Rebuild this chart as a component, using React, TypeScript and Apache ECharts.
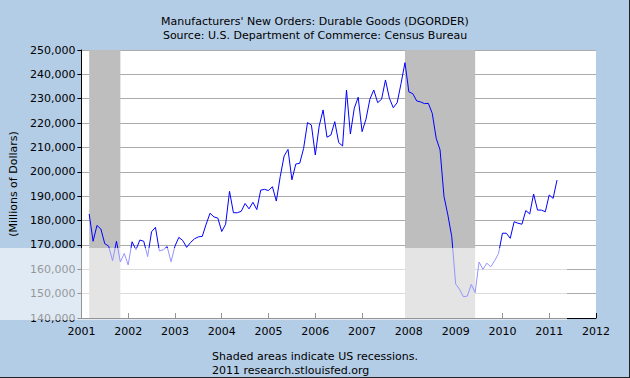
import React, { useEffect, useRef } from "react";
import * as echarts from "echarts";

const titleLines = [
  "Manufacturers' New Orders: Durable Goods (DGORDER)",
  "Source: U.S. Department of Commerce: Census Bureau",
];
const noteLines = ["Shaded areas indicate US recessions.", "2011 research.stlouisfed.org"];
const yAxisName = "(Millions of Dollars)";
const xMin = 2001;
const xMax = 2012;
const yMin = 140000;
const yMax = 250000;
const yStep = 10000;

// first observation: March 2001, monthly thereafter
const firstObs = "2001-03";
const values = [
  182700, 171500, 178000, 176500, 170500, 169500, 163500, 171500, 163000, 166500,
  161800, 171300, 168000, 172000, 171500, 165200, 175400, 177200, 167500, 168000,
  169300, 163100, 169500, 173100, 171800, 169000, 171000, 172500, 173300, 173500,
  178500, 183000, 181500, 181000, 175500, 178500, 192000, 183200, 183200, 183800,
  187000, 184800, 187500, 184500, 192500, 192800, 192300, 193900, 188000, 198000,
  206500, 209200, 196700, 203200, 203500, 209600, 220200, 219200, 206900, 218800,
  225400, 214200, 215100, 220600, 212000, 210600, 233600, 215500, 226100, 230600,
  216500, 221600, 229800, 233600, 228400, 229800, 237700, 230200, 226300, 228400,
  236300, 244800, 232800, 232100, 229100, 228700, 228000, 228100, 224000, 213800,
  209000, 190000, 182300, 173400, 154000, 151800, 148700, 149000, 153800, 150400,
  163000, 160000, 162500, 161000, 163500, 166500, 174800, 174800, 172700, 179500,
  178900, 178500, 184100, 182700, 190900, 184300, 184300, 183600, 190500, 189100,
  196600,
];
const recessions: [string, string][] = [
  ["2001-03", "2001-11"],
  ["2007-12", "2009-06"],
];

const ym = (s: string) => {
  const [y, m] = s.split("-").map(Number);
  return y + (m - 1) / 12;
};

const FONT = "DejaVu Sans";

export default function App() {
  const ref = useRef<HTMLDivElement>(null);
  useEffect(() => {
    document.body.style.margin = "0";
    if (!ref.current) return;
    const chart = echarts.init(ref.current, null, { renderer: "svg" });
    const x0 = ym(firstObs);
    const data = values.map((v, i) => [x0 + i / 12, v]);
    chart.setOption({
      animation: false,
      backgroundColor: "#B4CDE6",
      title: {
        text: titleLines.join("\n"),
        left: "center",
        top: 9,
        textStyle: { fontFamily: FONT, fontSize: 11, fontWeight: "normal", color: "#000", lineHeight: 14.5 },
      },
      grid: {
        left: 80,
        right: 34,
        top: 50,
        bottom: 60,
        show: true,
        backgroundColor: "#ffffff",
        borderWidth: 0,
      },
      xAxis: {
        type: "value",
        min: xMin,
        max: xMax,
        interval: 1,
        axisLine: { show: true, lineStyle: { color: "#000", width: 1 } },
        axisTick: { show: true, inside: true, length: 5, lineStyle: { color: "#000" } },
        splitLine: { show: false },
        axisLabel: {
          fontFamily: FONT,
          fontSize: 11,
          color: "#000",
          margin: 8,
          formatter: (v: number) => String(v),
        },
      },
      yAxis: {
        type: "value",
        min: yMin,
        max: yMax,
        interval: yStep,
        name: yAxisName,
        nameLocation: "middle",
        nameRotate: 90,
        nameGap: 62,
        nameTextStyle: { fontFamily: FONT, fontSize: 11, color: "#000" },
        axisLine: { show: true, lineStyle: { color: "#000", width: 1 } },
        axisTick: { show: true, inside: false, length: 4, lineStyle: { color: "#000" } },
        splitLine: { show: true, lineStyle: { color: "#ABABAB", width: 1 } },
        axisLabel: {
          fontFamily: FONT,
          fontSize: 11,
          color: "#000",
          margin: 6,
          formatter: (v: number) => v.toLocaleString("en-US"),
        },
      },
      series: [
        {
          type: "line",
          data,
          showSymbol: false,
          lineStyle: { color: "#0000FF", width: 1 },
          itemStyle: { color: "#0000FF" },
          markArea: {
            silent: true,
            itemStyle: { color: "#BEBEBE" },
            data: recessions.map(([a, b]) => [{ xAxis: ym(a) }, { xAxis: ym(b) }]),
          },
        },
      ],
      graphic: [
        {
          type: "text",
          left: "center",
          top: 349,
          style: {
            text: noteLines.join("\n"),
            fontFamily: FONT,
            fontSize: 11,
            fill: "#000",
            lineHeight: 14,
            align: "center",
          },
        },
        {
          type: "rect",
          z: 100,
          silent: true,
          shape: { x: 0, y: 248, width: 567, height: 72 },
          style: { fill: "rgba(255,255,255,0.58)" },
        },
        {
          type: "line",
          z: 101,
          shape: { x1: 629.5, y1: 0, x2: 629.5, y2: 378 },
          style: { stroke: "#222", lineWidth: 1 },
        },
        {
          type: "line",
          z: 101,
          shape: { x1: 0, y1: 377.5, x2: 630, y2: 377.5 },
          style: { stroke: "#222", lineWidth: 1 },
        },
      ],
    });
    return () => chart.dispose();
  }, []);
  return <div ref={ref} style={{ width: 630, height: 378 }} />;
}
